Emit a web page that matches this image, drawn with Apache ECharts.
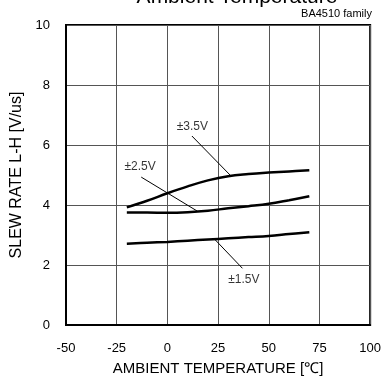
<!DOCTYPE html>
<html><head><meta charset="utf-8">
<script src="https://cdn.jsdelivr.net/npm/echarts@6/dist/echarts.min.js"></script>
<style>html,body{margin:0;padding:0;background:#fff}#c{width:384px;height:381px}</style>
</head><body><div id="c"></div>
<script>
const xTicks = [-50, -25, 0, 25, 50, 75, 100];
const yTicks = [0, 2, 4, 6, 8, 10];
const temps = [-20, -10, 0, 10, 20, 30, 40, 50, 60, 70];
const sr35 = [3.92, 4.14, 4.39, 4.62, 4.82, 4.96, 5.03, 5.08, 5.12, 5.16];
const sr25 = [3.75, 3.75, 3.74, 3.76, 3.81, 3.89, 3.96, 4.04, 4.16, 4.29];
const sr15 = [2.71, 2.74, 2.77, 2.81, 2.85, 2.89, 2.93, 2.97, 3.03, 3.09];
const annLabels = ['±3.5V', '±2.5V', '±1.5V'];
const annText = [[12.3, 6.62], [-13.5, 5.27], [37.7, 1.52]];
const annStart = [[12.1, 6.30], [-12.9, 4.93], [37.0, 1.89]];
const annEnd = [[30.9, 5.00], [14.9, 3.79], [23.0, 2.88]];

const FONT = '"Liberation Sans", Arial, sans-serif';
const chart = echarts.init(document.getElementById('c'), null, {renderer: 'canvas'});
const mk = (vals) => temps.map((t, i) => [t, vals[i]]);
const curve = (name, vals) => ({
  name, type: 'line', data: mk(vals), smooth: 0.4, symbol: 'none',
  lineStyle: {color: '#000', width: 2.5}, z: 3
});
const leaderSeries = annLabels.map((lab, i) => ({
  type: 'line', symbol: 'none', silent: true, z: 4,
  lineStyle: {color: '#000', width: 1},
  data: [annStart[i], annEnd[i]]
}));
const textSeries = {
  type: 'scatter', symbolSize: 1, silent: true, z: 5,
  itemStyle: {color: 'rgba(0,0,0,0)'},
  data: annLabels.map((lab, i) => ({value: annText[i], name: lab})),
  label: {show: true, position: 'inside', formatter: (p) => p.name,
    color: '#000', fontSize: 12, fontFamily: FONT}
};
chart.setOption({
  animation: false,
  textStyle: {fontFamily: FONT},
  grid: {left: 66, right: 12, top: 25, bottom: 52, show: true,
    borderColor: '#000', borderWidth: 2, backgroundColor: 'transparent'},
  title: [
    {text: 'Ambient Temperature', left: 237, textAlign: 'center', top: -13, padding: 0,
      textStyle: {fontSize: 21, fontWeight: 'normal', color: '#000', fontFamily: FONT}},
    {text: 'BA4510 family', right: 12, top: 8, padding: 0,
      textStyle: {fontSize: 11, fontWeight: 'normal', color: '#000', fontFamily: FONT}}
  ],
  xAxis: {
    type: 'value', min: -50, max: 100, interval: 25,
    name: 'AMBIENT TEMPERATURE [℃]', nameLocation: 'middle', nameGap: 36,
    nameTextStyle: {fontSize: 15, color: '#000', fontFamily: FONT},
    axisLine: {show: true, onZero: false, lineStyle: {color: '#000', width: 2}},
    axisTick: {show: false},
    axisLabel: {color: '#000', fontSize: 13, margin: 17, fontFamily: FONT,
      customValues: xTicks},
    splitLine: {show: true, lineStyle: {color: '#555', width: 1}}
  },
  yAxis: {
    type: 'value', min: 0, max: 10, interval: 2,
    name: 'SLEW RATE L-H [V/us]', nameLocation: 'middle', nameGap: 34,
    nameTextStyle: {fontSize: 16, color: '#000', fontFamily: FONT},
    axisLine: {show: true, onZero: false, lineStyle: {color: '#000', width: 2}},
    axisTick: {show: false},
    axisLabel: {color: '#000', fontSize: 13, margin: 16, fontFamily: FONT,
      customValues: yTicks},
    splitLine: {show: true, lineStyle: {color: '#555', width: 1}}
  },
  series: [curve('±3.5V', sr35), curve('±2.5V', sr25), curve('±1.5V', sr15), ...leaderSeries, textSeries]
});
</script></body></html>
